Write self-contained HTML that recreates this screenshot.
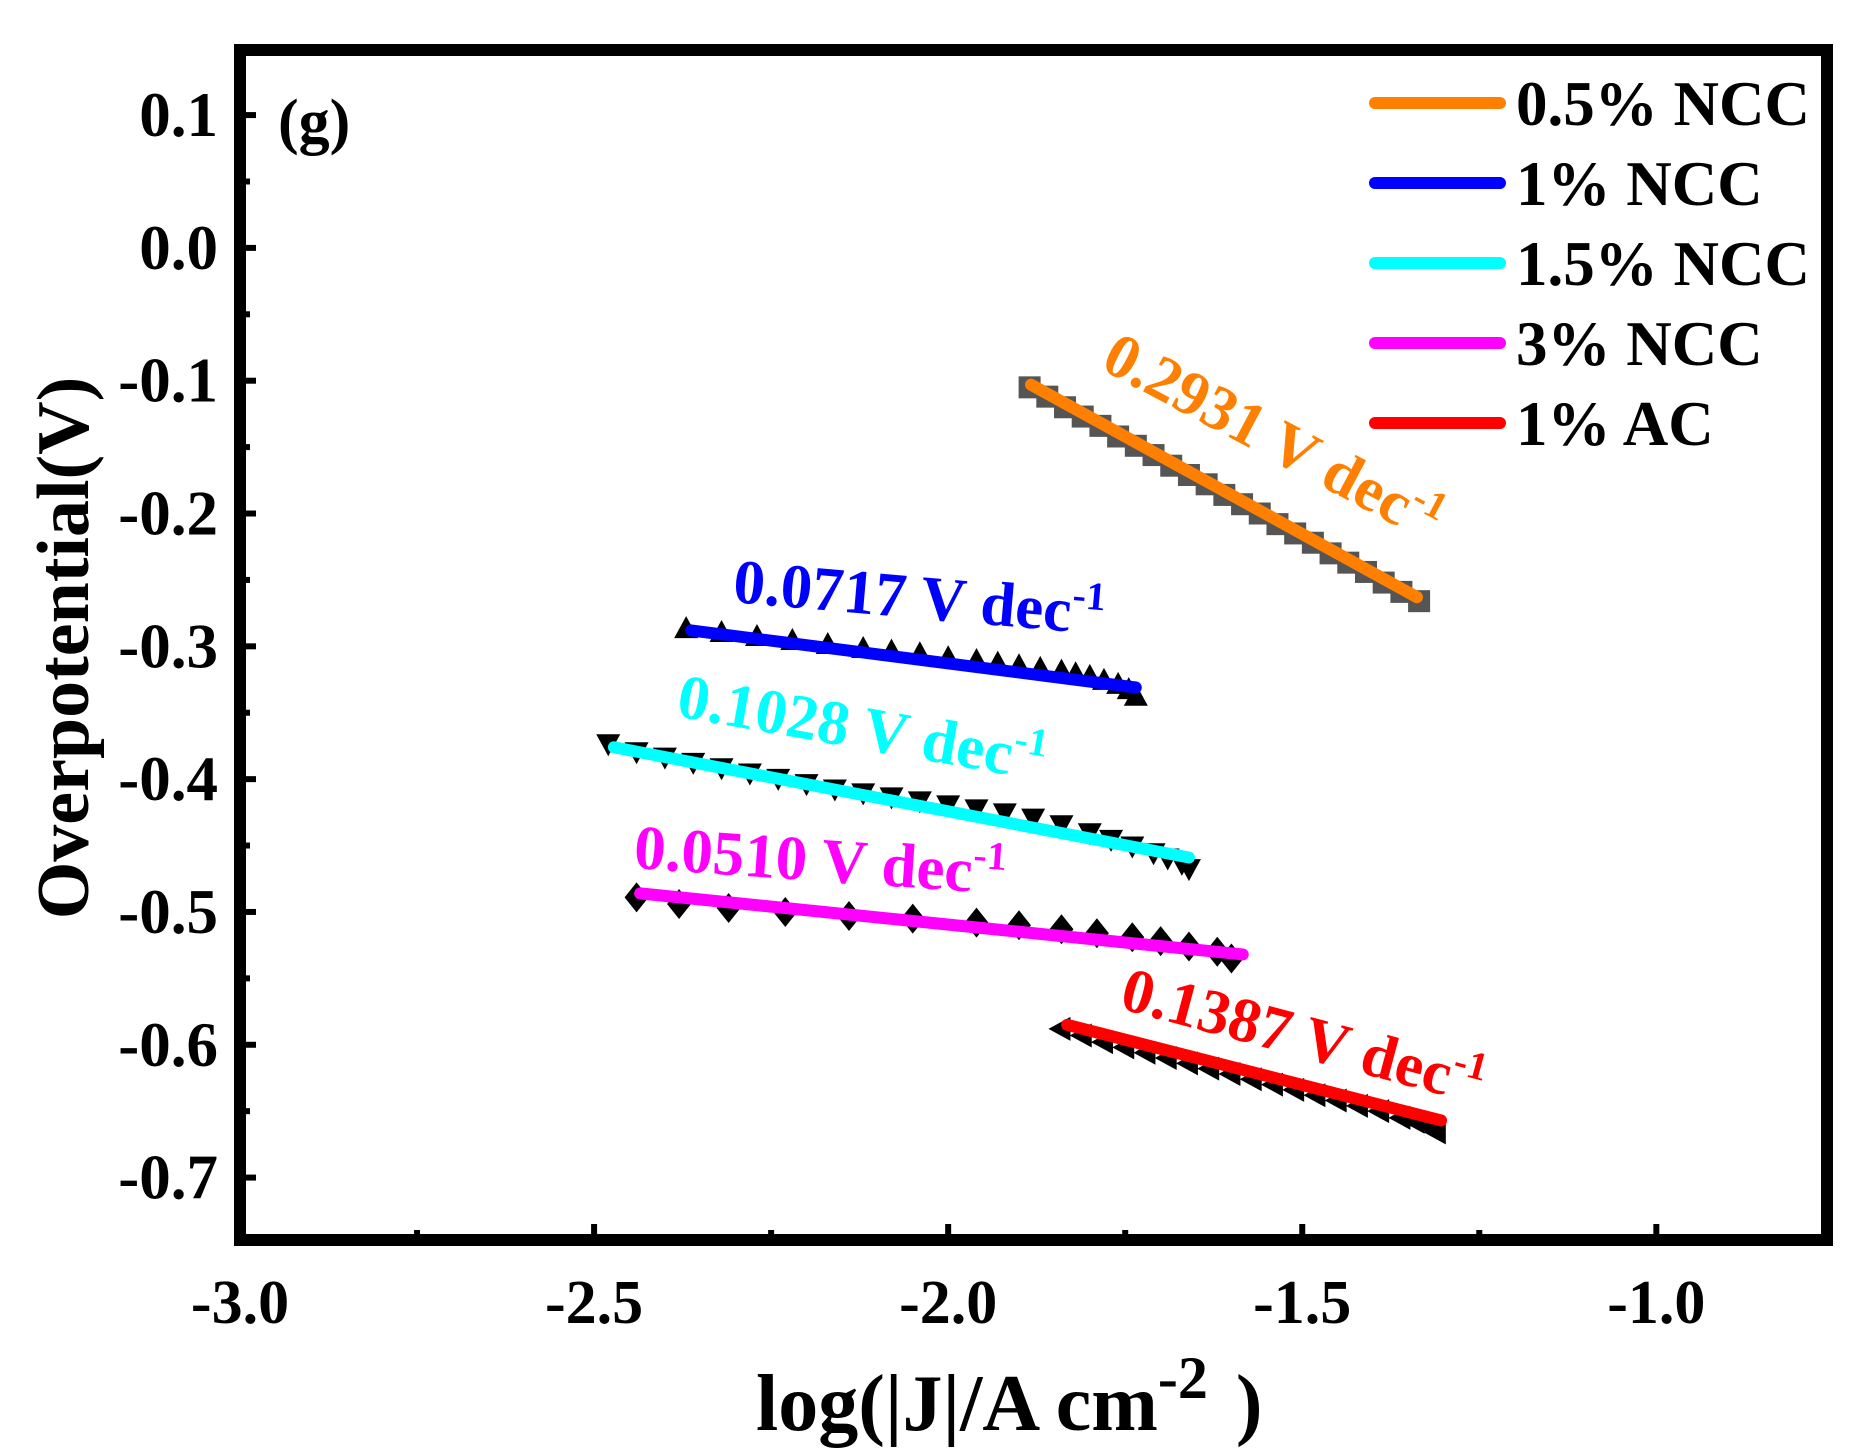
<!DOCTYPE html>
<html><head><meta charset="utf-8"><style>
html,body{margin:0;padding:0;background:#fff}
svg{display:block;font-family:"Liberation Serif",serif;font-weight:bold}
</style></head><body>
<svg id="chart" width="1866" height="1455" viewBox="0 0 1866 1455">
<g id="marks"></g>
<rect x="240" y="50" width="1587" height="1190" fill="none" stroke="#000" stroke-width="12"/>
<g id="axes"></g>
<text x="278" y="142" font-size="62">(g)</text>
<text transform="translate(88,648) rotate(-90)" text-anchor="middle" font-size="74">Overpotential(V)</text>
<text x="756" y="1430" font-size="80">log(|J|/A cm<tspan dy="-32" font-size="60">-2</tspan><tspan dy="32" dx="28">)</tspan></text>
<g id="legend"></g>
<g font-size="63">
<text fill="#ff8000" transform="translate(1099,368) rotate(28)">0.2931 V dec<tspan dy="-24" font-size="40">-1</tspan></text>
<text fill="#0000ff" transform="translate(732,602) rotate(5)">0.0717 V dec<tspan dy="-24" font-size="40">-1</tspan></text>
<text fill="#00ffff" transform="translate(675,716) rotate(10)">0.1028 V dec<tspan dy="-24" font-size="40">-1</tspan></text>
<text fill="#ff00ff" transform="translate(633,868) rotate(4)">0.0510 V dec<tspan dy="-24" font-size="40">-1</tspan></text>
<text fill="#ff0000" transform="translate(1118,1008) rotate(15)">0.1387 V dec<tspan dy="-24" font-size="40">-1</tspan></text>
</g>
</svg>
<script>
const xTicks=[-3.0,-2.5,-2.0,-1.5,-1.0];
const xTickLabels=["-3.0","-2.5","-2.0","-1.5","-1.0"];
const yTicks=[0.1,0.0,-0.1,-0.2,-0.3,-0.4,-0.5,-0.6,-0.7];
const yTickLabels=["0.1","0.0","-0.1","-0.2","-0.3","-0.4","-0.5","-0.6","-0.7"];
const seriesNames=["0.5% NCC","1% NCC","1.5% NCC","3% NCC","1% AC"];
const seriesColors=["#ff8000","#0000ff","#00ffff","#ff00ff","#ff0000"];
const orangeX=[-1.885,-1.86,-1.835,-1.81,-1.785,-1.76,-1.735,-1.71,-1.685,-1.66,-1.635,-1.61,-1.585,-1.56,-1.535,-1.51,-1.485,-1.46,-1.435,-1.41,-1.385,-1.36,-1.335];
const orangeY=[-0.105,-0.112,-0.120,-0.127,-0.134,-0.142,-0.149,-0.156,-0.164,-0.171,-0.178,-0.186,-0.193,-0.200,-0.208,-0.215,-0.222,-0.230,-0.237,-0.244,-0.252,-0.259,-0.266];
const blueX=[-2.37,-2.32,-2.27,-2.22,-2.17,-2.12,-2.08,-2.04,-2.00,-1.96,-1.93,-1.90,-1.87,-1.84,-1.82,-1.80,-1.78,-1.76,-1.745,-1.735];
const blueY=[-0.287,-0.290,-0.293,-0.296,-0.299,-0.302,-0.304,-0.306,-0.309,-0.311,-0.313,-0.315,-0.317,-0.319,-0.321,-0.323,-0.326,-0.329,-0.333,-0.338];
const cyanX=[-2.48,-2.44,-2.40,-2.36,-2.32,-2.28,-2.24,-2.20,-2.16,-2.12,-2.08,-2.04,-2.00,-1.96,-1.92,-1.88,-1.84,-1.80,-1.77,-1.74,-1.71,-1.69,-1.67,-1.66];
const cyanY=[-0.373,-0.379,-0.383,-0.387,-0.391,-0.395,-0.399,-0.403,-0.407,-0.410,-0.413,-0.416,-0.419,-0.422,-0.425,-0.429,-0.434,-0.440,-0.445,-0.450,-0.455,-0.459,-0.463,-0.467];
const magentaX=[-2.44,-2.38,-2.31,-2.23,-2.14,-2.05,-1.96,-1.90,-1.84,-1.79,-1.74,-1.70,-1.66,-1.62,-1.60];
const magentaY=[-0.489,-0.494,-0.497,-0.500,-0.503,-0.505,-0.508,-0.510,-0.513,-0.516,-0.519,-0.522,-0.526,-0.530,-0.535];
const redX=[-1.84,-1.81,-1.78,-1.75,-1.72,-1.69,-1.66,-1.63,-1.60,-1.57,-1.54,-1.51,-1.48,-1.45,-1.42,-1.39,-1.36,-1.34,-1.32,-1.31];
const redY=[-0.588,-0.593,-0.598,-0.602,-0.606,-0.610,-0.614,-0.618,-0.622,-0.626,-0.630,-0.634,-0.638,-0.642,-0.646,-0.650,-0.655,-0.658,-0.662,-0.666];
const fitX=[[-1.883,-1.338],[-2.363,-1.735],[-2.472,-1.660],[-2.435,-1.584],[-1.832,-1.304]];
const fitY=[[-0.103,-0.263],[-0.288,-0.331],[-0.376,-0.459],[-0.486,-0.532],[-0.585,-0.657]];

const NS="http://www.w3.org/2000/svg";
const X0=-3.0,X1=-0.759,Y0=0.149,Y1=-0.747;
const PL=240,PR=1827,PT=50,PB=1240;
function sx(v){return PL+(v-X0)/(X1-X0)*(PR-PL);}
function sy(v){return PT+(v-Y0)/(Y1-Y0)*(PB-PT);}
function mk(tag,attrs,parent){const e=document.createElementNS(NS,tag);for(const k in attrs)e.setAttribute(k,attrs[k]);parent.appendChild(e);return e;}
const marks=document.getElementById('marks'),axes=document.getElementById('axes'),legend=document.getElementById('legend');

xTicks.forEach((v,i)=>{
  const x=sx(v);
  const t=mk('line',{x1:x,x2:x,y1:PB,y2:PB-16,stroke:'#000','stroke-width':6},axes);
  
  
  if(i<xTicks.length-1){const xm=sx(v+0.25);
    const m=mk('line',{x1:xm,x2:xm,y1:PB,y2:PB-10,stroke:'#000','stroke-width':6},axes);
    
    }
  const l=mk('text',{x:x,y:1323,'text-anchor':'middle','font-size':62},axes);
  l.textContent=xTickLabels[i];
  
  
});
yTicks.forEach((v,i)=>{
  const y=sy(v);
  const t=mk('line',{x1:PL,x2:PL+16,y1:y,y2:y,stroke:'#000','stroke-width':6},axes);
  
  
  const ym=sy(v-0.05);
  if(ym<PB-4){const m=mk('line',{x1:PL,x2:PL+10,y1:ym,y2:ym,stroke:'#000','stroke-width':6},axes);
    
    }
  const l=mk('text',{x:218,y:y+21,'text-anchor':'end','font-size':63},axes);
  l.textContent=yTickLabels[i];
  
  
});

function square(x,y){return mk('rect',{x:sx(x)-11,y:sy(y)-11,width:22,height:22,fill:'#555'},marks);}
function triUp(x,y){const X=sx(x),Y=sy(y);return mk('polygon',{points:`${X},${Y-13} ${X-12},${Y+9} ${X+12},${Y+9}`,fill:'#000'},marks);}
function triDown(x,y){const X=sx(x),Y=sy(y);return mk('polygon',{points:`${X-12},${Y-9} ${X+12},${Y-9} ${X},${Y+13}`,fill:'#000'},marks);}
function diamond(x,y){const X=sx(x),Y=sy(y);return mk('polygon',{points:`${X},${Y-15} ${X+12},${Y} ${X},${Y+15} ${X-12},${Y}`,fill:'#000'},marks);}
function triLeft(x,y){const X=sx(x),Y=sy(y);return mk('polygon',{points:`${X-13},${Y} ${X+9},${Y-12} ${X+9},${Y+12}`,fill:'#000'},marks);}
const sets=[[orangeX,orangeY,square],[blueX,blueY,triUp],[cyanX,cyanY,triDown],[magentaX,magentaY,diamond],[redX,redY,triLeft]];
sets.forEach((s,si)=>{
  s[0].forEach((x,i)=>{
    const m=s[2](x,s[1][i]);
    
    
  });
});
fitX.forEach((fx,i)=>{
  const l=mk('line',{x1:sx(fx[0]),y1:sy(fitY[i][0]),x2:sx(fx[1]),y2:sy(fitY[i][1]),stroke:seriesColors[i],'stroke-width':12,'stroke-linecap':'round'},marks);
  
  
});
seriesNames.forEach((n,i)=>{
  const y=103+i*80;
  const l=mk('line',{x1:1375,x2:1500,y1:y,y2:y,stroke:seriesColors[i],'stroke-width':12,'stroke-linecap':'round'},legend);
  
  
  const t=mk('text',{x:1516,y:y+22,'font-size':63},legend);
  t.textContent=n;
  
  
});
</script>
</body></html>
